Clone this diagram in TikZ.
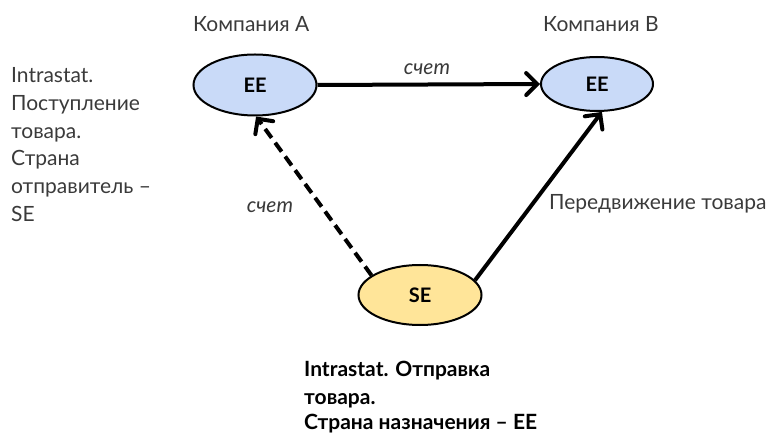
\documentclass[tikz,border=0pt]{standalone}
\usepackage{fontspec}
\setmainfont{Lato}
\usetikzlibrary{shapes.geometric,arrows.meta}
\definecolor{txtgray}{HTML}{3A3A3A}
\definecolor{eeblue}{HTML}{C9DAF8}
\definecolor{seyellow}{HTML}{FFE599}
\tikzset{
  country/.style={ellipse,draw=black,line width=2bp,inner sep=0pt,
    font=\fontsize{20bp}{22bp}\selectfont\bfseries},
  lbl/.style={inner sep=0pt,anchor=base west,text=txtgray,
    font=\fontsize{21bp}{27bp}\selectfont},
  boldlbl/.style={inner sep=0pt,anchor=base west,text=black,
    font=\fontsize{21bp}{27bp}\selectfont\bfseries},
  flow/.style={line width=4bp,-{Straight Barb[length=11bp,width=22bp,line cap=round]}},
  flowdash/.style={flow,dash pattern=on 11bp off 6bp}
}
\begin{document}
\begin{tikzpicture}[x=1bp,y=-1bp]
\useasboundingbox (0,0) rectangle (771,433);
% ellipses
\node[country,fill=eeblue,minimum width=123bp,minimum height=61bp] (A) at (255,85) {EE};
\node[country,fill=eeblue,minimum width=112bp,minimum height=54bp] (B) at (597,84) {EE};
\node[country,fill=seyellow,minimum width=123bp,minimum height=60bp] (S) at (420,295) {SE};
% titles
\node[lbl] (tA) at (193,32) {Компания А};
\node[lbl] (tB) at (543,32) {Компания В};
% left block
\node[lbl] (l1) at (11,83) {Intrastat.};
\node[lbl] (l2) at (11,111) {Поступление};
\node[lbl] (l3) at (11,139) {товара.};
\node[lbl] (l4) at (11,166) {Страна};
\node[lbl] (l5) at (11,194) {отправитель –};
\node[lbl] (l6) at (11,222) {SE};
% bottom block
\node[boldlbl] (b1) at (304,377) {Intrastat. Отправка};
\node[boldlbl] (b2) at (304,404) {товара.};
\node[boldlbl] (b3) at (304,429) {Страна назначения – EE};
% edge labels
\node[lbl,anchor=base,font=\fontsize{21bp}{27bp}\selectfont\itshape] (c1) at (427,75) {счет};
\node[lbl,anchor=base,font=\fontsize{21bp}{27bp}\selectfont\itshape] (c2) at (270,213) {счет};
\node[lbl] (mv) at (549,210) {Передвижение товара};
% connectors
\draw[flow] (A.east) -- (B.west);
\draw[flowdash] (S.158) -- (A.-88);
\draw[flow] (S.15) -- (B.-80);
\end{tikzpicture}
\end{document}
